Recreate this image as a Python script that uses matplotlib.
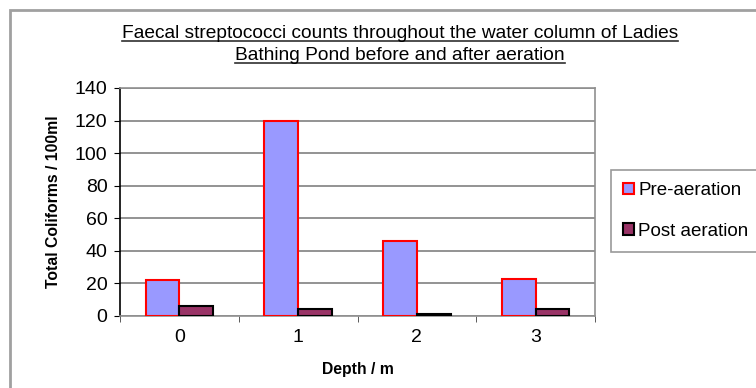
import matplotlib.pyplot as plt
import numpy as np
from matplotlib.patches import Rectangle

plt.rcParams['font.family'] = ['Liberation Sans', 'DejaVu Sans']

depths = ['0', '1', '2', '3']
pre_aeration = [22, 120, 46, 23]
post_aeration = [6, 4, 1, 4]
y_ticks = [0, 20, 40, 60, 80, 100, 120, 140]

title_lines = ['Faecal streptococci counts throughout the water column of Ladies',
               'Bathing Pond before and after aeration']

fig = plt.figure(figsize=(7.56, 3.88), dpi=100)
fig.patch.set_facecolor('white')

# grey frame round the whole chart
fig.add_artist(Rectangle((10 / 756, -0.1), 1.0, 1.1 - 10 / 388, transform=fig.transFigure,
                         fill=False, edgecolor='#a0a0a0', linewidth=2))

ax = fig.add_axes([120 / 756, 1 - 316 / 388, 475 / 756, 228 / 388])

x = np.arange(len(depths))
w = 0.285
ax.bar(x - w / 2, pre_aeration, w, color='#9999ff', edgecolor='#ff0000',
       linewidth=1.5, label='Pre-aeration', zorder=3)
ax.bar(x + w / 2, post_aeration, w, color='#993366', edgecolor='black',
       linewidth=1.5, label='Post aeration', zorder=3)

ax.set_xlim(-0.5, len(depths) - 0.5)
ax.set_ylim(0, 140)
ax.set_yticks(y_ticks)
ax.set_yticklabels([str(v) for v in y_ticks], fontsize=14)
ax.set_xticks(x)
ax.set_xticklabels(depths, fontsize=14)
ax.tick_params(axis='x', length=0, pad=9)
ax.set_xticks(np.arange(-0.5, len(depths)), minor=True)
ax.tick_params(axis='x', which='minor', length=4, color='#404040')
ax.tick_params(axis='y', length=4, color='black', pad=5)

ax.yaxis.grid(True, color='#808080', linewidth=1.2, zorder=0)
for side in ['top', 'right', 'bottom']:
    ax.spines[side].set_color('#909090')
    ax.spines[side].set_linewidth(1.2)
ax.spines['left'].set_color('black')
ax.spines['left'].set_linewidth(1.2)

ax.set_xlabel('Depth / m', fontsize=11.3, fontweight='bold', labelpad=12)
ax.set_ylabel('Total Coliforms / 100ml', fontsize=11.3, fontweight='bold', labelpad=10)

leg = fig.legend(loc='upper left', bbox_to_anchor=(611 / 756, 1 - 170 / 388),
                 fontsize=13.5, frameon=True, fancybox=False, handlelength=0.55,
                 handleheight=0.55, handletextpad=0.25, labelspacing=1.25,
                 borderpad=0.65, borderaxespad=0)
leg.get_frame().set_edgecolor('#808080')
leg.get_frame().set_linewidth(1.2)

# underlined two-line title
title_y = [34, 56]
texts = []
for line, yy in zip(title_lines, title_y):
    t = fig.text(400 / 756, 1 - yy / 388, line, ha='center', va='center', fontsize=13.8)
    texts.append(t)
fig.canvas.draw()
renderer = fig.canvas.get_renderer()
inv = fig.transFigure.inverted()
for t in texts:
    bb = t.get_window_extent(renderer)
    (x0, y0), (x1, y1) = inv.transform([(bb.x0, bb.y0), (bb.x1, bb.y1)])
    fig.add_artist(plt.Line2D([x0, x1], [y0 + 0.004, y0 + 0.004], transform=fig.transFigure,
                              color='#303030', linewidth=1.2))

fig.savefig('out.png', dpi=100)
